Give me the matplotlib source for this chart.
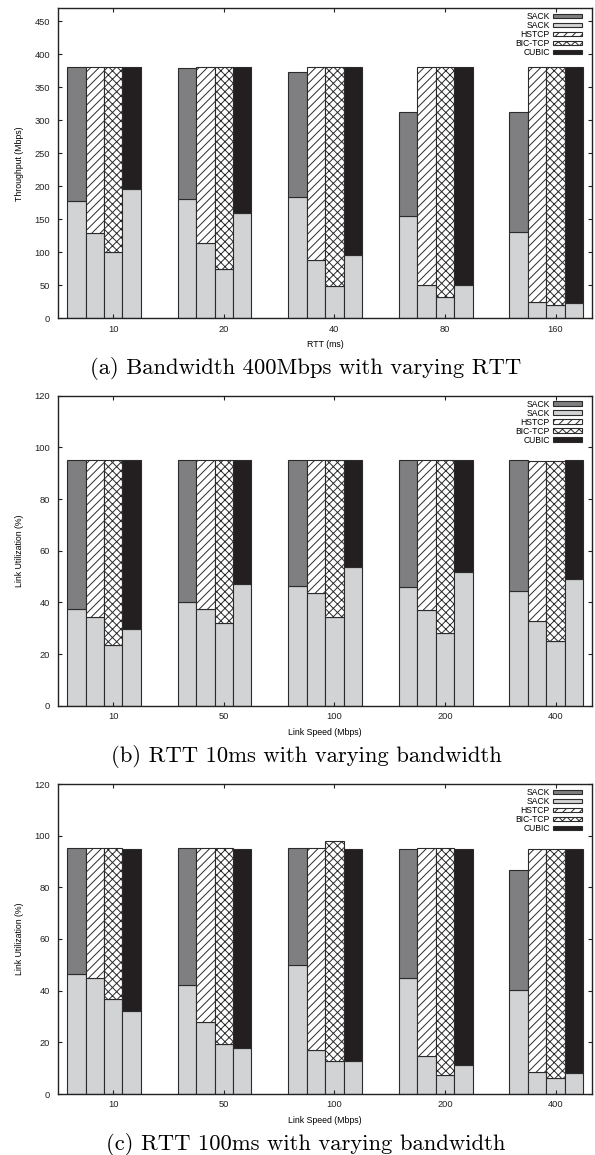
import numpy as np
import matplotlib
matplotlib.use("Agg")
import matplotlib.pyplot as plt
from matplotlib.patches import Patch

# protocol order inside each group
protocols = ["SACK", "HSTCP", "BIC-TCP", "CUBIC"]
rtt_labels = ["10", "20", "40", "80", "160"]
speed_labels = ["10", "50", "100", "200", "400"]

# (a) bandwidth 400Mbps, throughput in Mbps
# lower = SACK flow, upper = competing flow (stacked on top)
a_lower_sack = [177.5, 180.5, 183.5, 155.0, 130.5]
a_upper_sack = [204.0, 198.5, 190.5, 158.5, 183.0]
a_lower_hstcp = [130.0, 113.5, 88.5, 50.5, 25.0]
a_upper_hstcp = [251.5, 268.0, 293.0, 330.5, 356.0]
a_lower_bic = [100.0, 74.5, 49.5, 32.5, 20.0]
a_upper_bic = [281.5, 307.0, 332.0, 348.5, 361.0]
a_lower_cubic = [195.5, 160.0, 96.5, 50.5, 22.5]
a_upper_cubic = [186.0, 221.5, 285.0, 330.5, 358.5]

# (b) RTT 10ms, link utilization in %
b_lower_sack = [37.3, 40.0, 46.4, 46.1, 44.5]
b_upper_sack = [57.7, 55.2, 48.7, 49.0, 50.6]
b_lower_hstcp = [34.3, 37.3, 43.6, 37.1, 32.7]
b_upper_hstcp = [60.7, 57.9, 51.5, 58.0, 62.0]
b_lower_bic = [23.5, 32.0, 34.3, 28.1, 25.0]
b_upper_bic = [71.6, 63.1, 60.8, 67.0, 69.7]
b_lower_cubic = [29.5, 47.2, 53.6, 51.8, 49.1]
b_upper_cubic = [65.6, 47.9, 41.5, 43.3, 46.0]

# (c) RTT 100ms, link utilization in %
c_lower_sack = [46.5, 42.3, 50.0, 44.9, 40.3]
c_upper_sack = [48.9, 53.1, 45.4, 50.1, 46.6]
c_lower_hstcp = [44.9, 27.9, 17.0, 14.7, 8.5]
c_upper_hstcp = [50.5, 67.5, 78.3, 80.7, 86.5]
c_lower_bic = [36.9, 19.4, 12.8, 7.4, 6.2]
c_upper_bic = [58.5, 76.0, 85.2, 88.0, 88.8]
c_lower_cubic = [32.2, 17.8, 12.8, 11.3, 8.1]
c_upper_cubic = [62.8, 77.2, 82.2, 83.7, 86.9]

DARK = "#7f7f82"
LIGHT = "#d2d3d5"
BLACK = "#231f20"
EDGE = "#2b2b2b"
upper_faces = [DARK, "white", "white", BLACK]
upper_hatches = [None, "////", "xxxx", None]

plt.rcParams["font.family"] = ["Liberation Sans", "DejaVu Sans"]
plt.rcParams["hatch.linewidth"] = 0.7
plt.rcParams["hatch.color"] = EDGE


def draw_panel(ax, labels, lowers, uppers, ymax, yticks, xlabel, ylabel):
    x = np.arange(len(labels))
    w = 1.0 / 6
    offsets = [-2, -1, 0, 1]
    for i in range(4):
        pos = x + offsets[i] * w
        ax.bar(pos, lowers[i], w, color=LIGHT, edgecolor=EDGE, linewidth=0.8)
        ax.bar(pos, uppers[i], w, bottom=lowers[i], color=upper_faces[i],
               hatch=upper_hatches[i], edgecolor=EDGE, linewidth=0.8)
    ax.set_xlim(-0.5, 4.33)
    ax.set_ylim(0, ymax)
    ax.set_xticks(x)
    ax.set_xticklabels(labels)
    ax.set_yticks(yticks)
    ax.tick_params(direction="in", length=3, width=0.8, top=True, right=True,
                   labelsize=6.7, colors="#222222")
    ax.tick_params(axis="y", pad=5.5)
    ax.tick_params(axis="x", pad=4.5)
    for s in ax.spines.values():
        s.set_linewidth(1.0)
        s.set_color("#222222")
    ax.set_xlabel(xlabel, fontsize=6.3, labelpad=5)
    ax.set_ylabel(ylabel, fontsize=6.3, labelpad=8)

    handles = [
        Patch(facecolor=DARK, edgecolor=EDGE, linewidth=0.8),
        Patch(facecolor=LIGHT, edgecolor=EDGE, linewidth=0.8),
        Patch(facecolor="white", edgecolor=EDGE, hatch="////", linewidth=0.8),
        Patch(facecolor="white", edgecolor=EDGE, hatch="xxxx", linewidth=0.8),
        Patch(facecolor=BLACK, edgecolor=EDGE, linewidth=0.8),
    ]
    ax.legend(handles, ["SACK", "SACK", "HSTCP", "BIC-TCP", "CUBIC"],
              loc="upper right", bbox_to_anchor=(1 - 10 / 534, 1 - 4 / 310),
              frameon=False, markerfirst=False,
              fontsize=6.2, handlelength=3.4, handleheight=0.4,
              handletextpad=0.35, labelspacing=0.0, borderaxespad=0.0,
              borderpad=0.0)


fig = plt.figure(figsize=(5.95, 11.55), dpi=100)
H = 1155.0
W = 595.0
tops = [8.3, 395.7, 784.0]
ax_h = 310.0
axes = []
for t in tops:
    axes.append(fig.add_axes([58 / W, 1 - (t + ax_h) / H, (592 - 58) / W, ax_h / H]))

draw_panel(axes[0], rtt_labels,
           [a_lower_sack, a_lower_hstcp, a_lower_bic, a_lower_cubic],
           [a_upper_sack, a_upper_hstcp, a_upper_bic, a_upper_cubic],
           470, range(0, 451, 50), "RTT (ms)", "Throughput (Mbps)")
draw_panel(axes[1], speed_labels,
           [b_lower_sack, b_lower_hstcp, b_lower_bic, b_lower_cubic],
           [b_upper_sack, b_upper_hstcp, b_upper_bic, b_upper_cubic],
           120, range(0, 121, 20), "Link Speed (Mbps)", "Link Utilization (%)")
draw_panel(axes[2], speed_labels,
           [c_lower_sack, c_lower_hstcp, c_lower_bic, c_lower_cubic],
           [c_upper_sack, c_upper_hstcp, c_upper_bic, c_upper_cubic],
           120, range(0, 121, 20), "Link Speed (Mbps)", "Link Utilization (%)")

captions = ["(a) Bandwidth 400Mbps with varying RTT",
            "(b) RTT 10ms with varying bandwidth",
            "(c) RTT 100ms with varying bandwidth"]
for t, cap in zip(tops, captions):
    fig.text(306 / W, 1 - (t + ax_h + 56) / H, cap, ha="center", va="baseline",
             family=["cmr10", "DejaVu Serif"], fontsize=16.3)

fig.savefig("out.png", dpi=100)
